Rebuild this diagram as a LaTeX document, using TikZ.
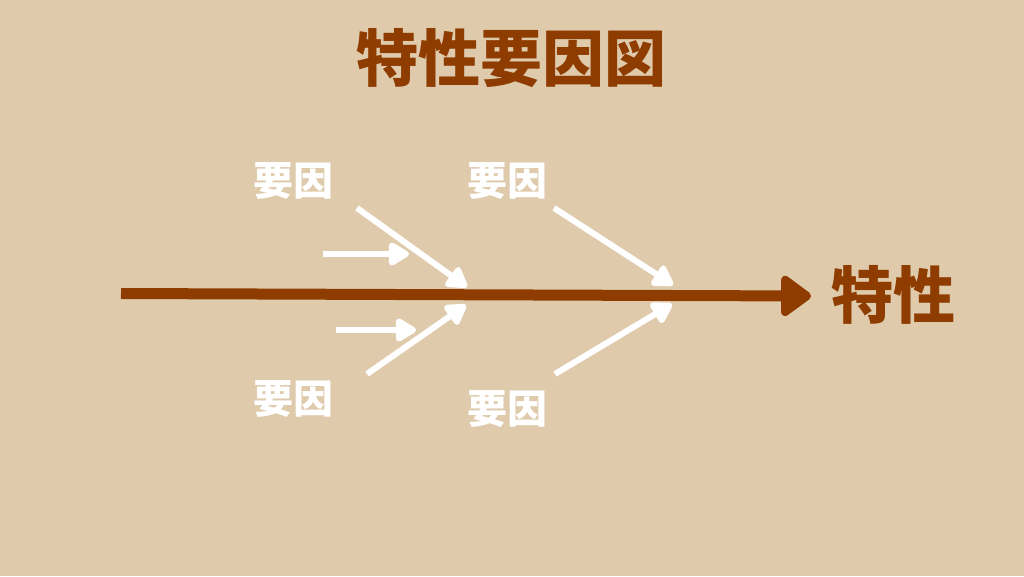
\documentclass[tikz,border=0pt]{standalone}
\usepackage{fontspec}
\usetikzlibrary{arrows.meta}
\newfontfamily\cjk{Noto Sans CJK JP}[UprightFont=* Black]
\definecolor{bgc}{RGB}{223,203,172}
\definecolor{brn}{RGB}{143,60,0}
\begin{document}
\begin{tikzpicture}[x=1pt,y=-1pt,
  lbl/.style={text=white,font=\cjk\fontsize{40}{40}\selectfont,inner sep=0pt},
  ttl/.style={text=brn,font=\cjk\fontsize{62}{62}\selectfont,inner sep=0pt},
  warrow/.style={draw=white,line width=6pt,-{Triangle[length=23pt,width=26pt,round]}},
  mainarrow/.style={draw=brn,line width=11pt,-{Triangle[length=33pt,width=46pt,round]}}]
\fill[bgc] (0,0) rectangle (1024,576);
\useasboundingbox (0,0) rectangle (1024,576);
\node[ttl] (title) at (511.5,58.5) {特性要因図};
\node[ttl] (char) at (893,295) {特性};
\node[lbl] (f1) at (293.5,181) {要因};
\node[lbl] (f2) at (507.5,181) {要因};
\node[lbl] (f3) at (293.5,399.5) {要因};
\node[lbl] (f4) at (507.5,409) {要因};
\coordinate (m0) at (121,293.5);
\coordinate (m1) at (811,296);
\draw[mainarrow] (m0) -- (m1);
% upper left diagonal
\coordinate (a1s) at (357,208);
\coordinate (a1e) at (467,287);
\draw[warrow] (a1s) -- (a1e);
% short horizontal upper
\coordinate (b1s) at (323,254);
\coordinate (b1e) at (409,254);
\draw[warrow] (b1s) -- (b1e);
% short horizontal lower
\coordinate (b2s) at (336,330);
\coordinate (b2e) at (416,330);
\draw[warrow] (b2s) -- (b2e);
% lower left diagonal
\coordinate (a2s) at (367,374);
\coordinate (a2e) at (466,305);
\draw[warrow] (a2s) -- (a2e);
% upper right diagonal
\coordinate (a3s) at (554,208);
\coordinate (a3e) at (673,285);
\draw[warrow] (a3s) -- (a3e);
% lower right diagonal
\coordinate (a4s) at (555,374);
\coordinate (a4e) at (672,304);
\draw[warrow] (a4s) -- (a4e);
\end{tikzpicture}
\end{document}
